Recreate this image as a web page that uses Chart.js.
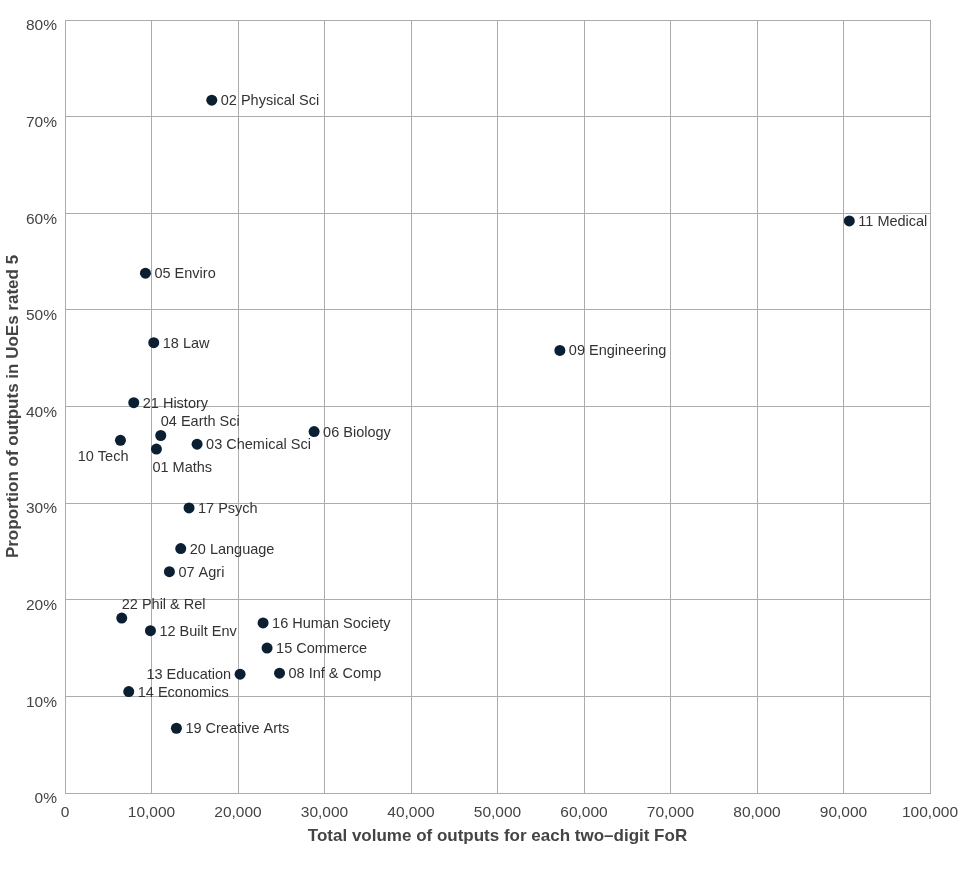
<!DOCTYPE html>
<html>
<head>
<meta charset="utf-8">
<script src="https://cdn.jsdelivr.net/npm/chart.js@4"></script>
<style>
  html, body { margin: 0; padding: 0; background: #fff; }
  #wrap { width: 973px; height: 871px; position: relative; }
</style>
</head>
<body>
<div id="wrap"><canvas id="c" width="973" height="871"></canvas></div>
<script>
// ---- data ----
const fieldLabels = [
  "02 Physical Sci", "11 Medical", "05 Enviro", "18 Law", "09 Engineering",
  "21 History", "04 Earth Sci", "10 Tech", "01 Maths", "03 Chemical Sci",
  "06 Biology", "17 Psych", "20 Language", "07 Agri", "22 Phil & Rel",
  "12 Built Env", "16 Human Society", "15 Commerce", "13 Education",
  "08 Inf & Comp", "14 Economics", "19 Creative Arts"
];
const outputVolumes = [
  16970, 90670, 9300, 10260, 57210,
  7950, 11070, 6410, 10570, 15270,
  28800, 14340, 13380, 12070, 6560,
  9880, 22900, 23360, 20240, 24800,
  7370, 12880
];
const rated5Percent = [
  71.7, 59.2, 53.8, 46.6, 45.8,
  40.4, 37.0, 36.5, 35.6, 36.1,
  37.4, 29.5, 25.3, 22.9, 18.1,
  16.8, 17.6, 15.0, 12.3, 12.4,
  10.5, 6.7
];
// where each label sits relative to its point
const labelPlacement = [
  "right", "right", "right", "right", "right",
  "right", "above", "belowLeft", "below", "right",
  "right", "right", "right", "right", "above",
  "right", "right", "right", "left", "right",
  "right", "right"
];
const xTicks = [0, 10000, 20000, 30000, 40000, 50000, 60000, 70000, 80000, 90000, 100000];
const yTicks = [0, 10, 20, 30, 40, 50, 60, 70, 80];

const FONT = "'Liberation Sans', Arial, Helvetica, sans-serif";
const GRID = "rgb(172,172,172)";

const points = outputVolumes.map((v, i) => ({ x: v, y: rated5Percent[i] }));

const pointLabelPlugin = {
  id: "pointLabels",
  afterDatasetsDraw(chart) {
    const ctx = chart.ctx;
    const meta = chart.getDatasetMeta(0);
    ctx.save();
    ctx.font = "14.5px " + FONT;
    ctx.fillStyle = "#333333";
    ctx.textBaseline = "middle";
    meta.data.forEach((el, i) => {
      const px = el.x, py = el.y + 1;
      const p = labelPlacement[i];
      let tx = px + 9, ty = py, align = "left";
      if (p === "left") { tx = px - 9; align = "right"; }
      else if (p === "above") { tx = px; ty = py - 14; }
      else if (p === "below") { tx = px - 4; ty = py + 18; }
      else if (p === "belowLeft") { tx = px + 8; ty = py + 16; align = "right"; }
      ctx.textAlign = align;
      ctx.fillText(fieldLabels[i], tx, ty);
    });
    ctx.restore();
  }
};

new Chart(document.getElementById("c"), {
  type: "scatter",
  data: {
    datasets: [{
      data: points,
      backgroundColor: "#0b1f33",
      borderColor: "#0b1f33",
      pointRadius: 5.5,
      pointHoverRadius: 5.5,
      borderWidth: 0
    }]
  },
  options: {
    responsive: false,
    animation: false,
    devicePixelRatio: 1,
    layout: { padding: { top: 20, right: 43, bottom: 0, left: 0 } },
    plugins: { legend: { display: false }, tooltip: { enabled: false } },
    scales: {
      x: {
        type: "linear",
        min: xTicks[0],
        max: xTicks[xTicks.length - 1],
        afterBuildTicks(scale) { scale.ticks = xTicks.map(v => ({ value: v })); },
        afterFit(scale) { scale.height = 78; },
        grid: { color: GRID, lineWidth: 1, drawTicks: false },
        border: { color: GRID, width: 1 },
        ticks: {
          padding: 10,
          color: "#444444",
          font: { family: FONT, size: 15.5 },
          maxRotation: 0,
          callback: v => Number(v).toLocaleString("en-US")
        },
        title: {
          display: true,
          text: "Total volume of outputs for each two\u2013digit FoR",
          color: "#444444",
          font: { family: FONT, size: 17, weight: "bold" },
          padding: { top: 0, bottom: 24 }
        }
      },
      y: {
        type: "linear",
        min: yTicks[0],
        max: yTicks[yTicks.length - 1],
        afterBuildTicks(scale) { scale.ticks = yTicks.map(v => ({ value: v })); },
        afterFit(scale) { scale.width = 65; },
        grid: { color: GRID, lineWidth: 1, drawTicks: false },
        border: { color: GRID, width: 1 },
        ticks: {
          padding: 8,
          labelOffset: 6,
          color: "#444444",
          font: { family: FONT, size: 15.5 },
          callback: v => v + "%"
        },
        title: {
          display: true,
          text: "Proportion of outputs in UoEs rated 5",
          color: "#444444",
          font: { family: FONT, size: 17, weight: "bold" },
          padding: { top: 3, bottom: 0 }
        }
      }
    }
  },
  plugins: [pointLabelPlugin]
});
</script>
</body>
</html>
